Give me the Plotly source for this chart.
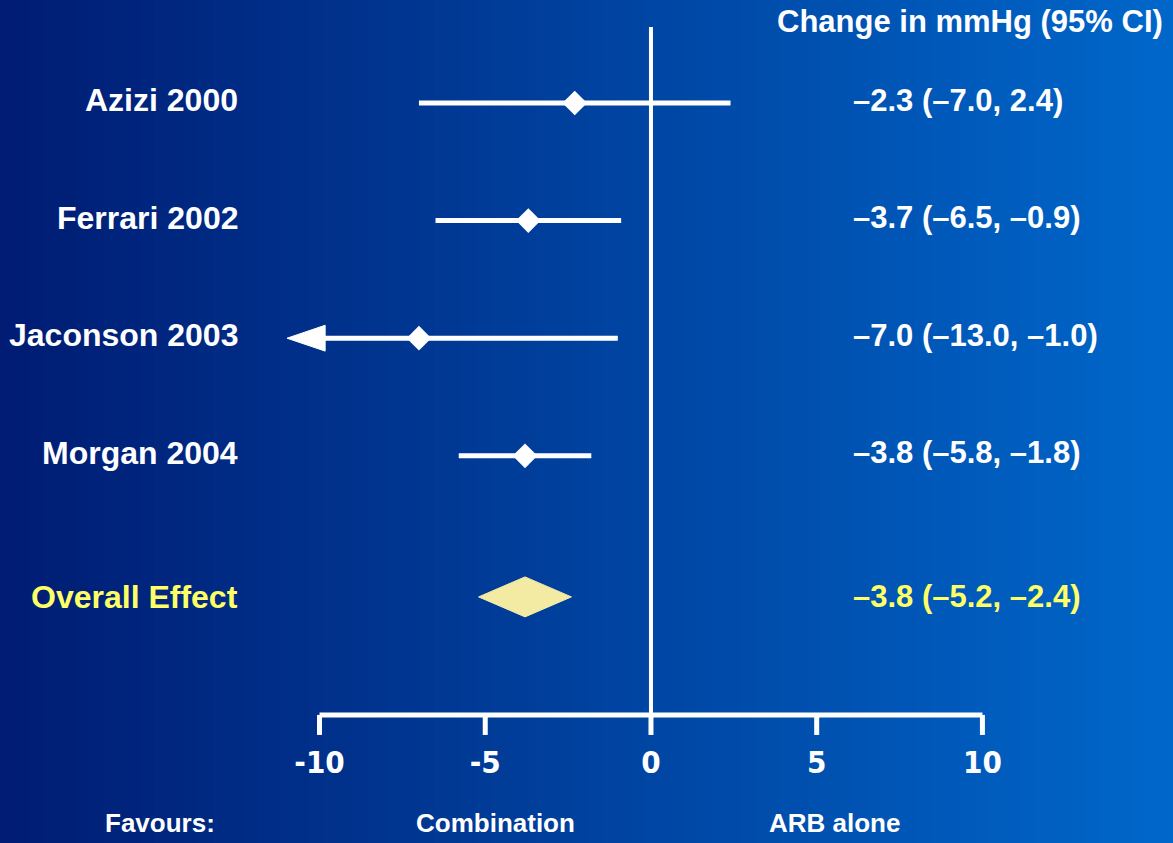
import plotly.graph_objects as go

# Study-level results: change in mmHg with 95% confidence interval
studies = ["Azizi 2000", "Ferrari 2002", "Jaconson 2003", "Morgan 2004"]
estimates = [-2.3, -3.7, -7.0, -3.8]
ci_low = [-7.0, -6.5, -13.0, -5.8]
ci_high = [2.4, -0.9, -1.0, -1.8]

# Pooled result
overall_label = "Overall Effect"
overall_est = -3.8
overall_low = -5.2
overall_high = -2.4

# Axis ticks and captions
tick_values = [-10, -5, 0, 5, 10]
tick_labels = ["-10", "-5", "0", "5", "10"]
header_text = "Change in mmHg (95% CI)"
favours_texts = ["Favours:", "Combination", "ARB alone"]

# ---- layout constants ----
W, H = 1173, 843
X_MIN, X_MAX = -10, 10
x_range = [-19.64, 15.75]
y_range = [6.293, -0.876]
row_y = [0, 1, 2, 3]
overall_y = 4.2
axis_y = 5.204
tick_len = 0.17
tick_label_y = 5.63
zero_top = -0.646
WHITE = "#ffffff"
YELLOW = "#ffff66"
DIAMOND_FILL = "#f3eba3"
FONT = "Liberation Sans, Arial, sans-serif"
NARROW = "DejaVu Sans Condensed, Liberation Sans Narrow, Arial Narrow, sans-serif"


def fmt(v):
    s = f"{abs(v):.1f}"
    return ("\u2013" + s) if v < 0 else s


fig = go.Figure()

# horizontal blue gradient background
n_strips = 160
c0 = (0, 28, 115)
c1 = (0, 103, 202)
shapes = []
for i in range(n_strips):
    t = i / (n_strips - 1)
    col = "rgb({},{},{})".format(*[round(a + (b - a) * t) for a, b in zip(c0, c1)])
    shapes.append(dict(type="rect", xref="paper", yref="paper",
                       x0=i / n_strips, x1=(i + 1.6) / n_strips, y0=0, y1=1,
                       fillcolor=col, line=dict(width=0), layer="below"))

# zero reference line
fig.add_trace(go.Scatter(x=[0, 0], y=[zero_top, axis_y], mode="lines",
                         line=dict(color=WHITE, width=4), hoverinfo="skip"))

# bracket-style x axis with downward ticks
bx, by = [X_MIN, X_MAX], [axis_y, axis_y]
for tv in tick_values:
    bx += [None, tv, tv]
    by += [None, axis_y, axis_y + tick_len]
fig.add_trace(go.Scatter(x=bx, y=by, mode="lines",
                         line=dict(color=WHITE, width=5), hoverinfo="skip"))
fig.add_trace(go.Scatter(x=tick_values, y=[tick_label_y] * len(tick_values),
                         mode="text", text=tick_labels,
                         textfont=dict(family=NARROW, size=31, color=WHITE, weight="bold"),
                         hoverinfo="skip"))

# confidence interval lines (truncated at the axis limit)
lx, ly = [], []
for y, lo, hi in zip(row_y, ci_low, ci_high):
    lx += [max(lo, X_MIN), min(hi, X_MAX), None]
    ly += [y, y, None]
fig.add_trace(go.Scatter(x=lx, y=ly, mode="lines",
                         line=dict(color=WHITE, width=5), hoverinfo="skip"))

# arrowheads for intervals running off the axis
for y, lo in zip(row_y, ci_low):
    if lo < X_MIN:
        fig.add_trace(go.Scatter(
            x=[X_MIN - 0.98, X_MIN + 0.17, X_MIN + 0.17, X_MIN - 0.98],
            y=[y, y - 0.11, y + 0.11, y], mode="lines", fill="toself",
            fillcolor=WHITE, line=dict(color=WHITE, width=1), hoverinfo="skip"))

# point estimates
fig.add_trace(go.Scatter(x=estimates, y=row_y, mode="markers",
                         marker=dict(symbol="diamond", size=19, color=WHITE,
                                     line=dict(width=0)),
                         hoverinfo="skip"))

# pooled estimate diamond
dh = 0.17
fig.add_trace(go.Scatter(
    x=[overall_low, overall_est, overall_high, overall_est, overall_low],
    y=[overall_y, overall_y - dh, overall_y, overall_y + dh, overall_y],
    mode="lines", fill="toself", fillcolor=DIAMOND_FILL,
    line=dict(color=DIAMOND_FILL, width=1), hoverinfo="skip"))

annotations = []
name_x = -12.40
value_x = 6.02
for y, name, e, lo, hi in zip(row_y, studies, estimates, ci_low, ci_high):
    annotations.append(dict(x=name_x, y=y - 0.025, text=name, xanchor="right",
                            yanchor="middle", showarrow=False,
                            font=dict(family=FONT, size=32, color=WHITE, weight="bold")))
    annotations.append(dict(x=value_x, y=y - 0.025, text=f"{fmt(e)} ({fmt(lo)}, {fmt(hi)})",
                            xanchor="left", yanchor="middle", showarrow=False,
                            font=dict(family=FONT, size=31, color=WHITE, weight="bold")))
annotations.append(dict(x=name_x, y=overall_y, text=overall_label, xanchor="right",
                        yanchor="middle", showarrow=False,
                        font=dict(family=FONT, size=32, color=YELLOW, weight="bold")))
annotations.append(dict(x=value_x, y=overall_y,
                        text=f"{fmt(overall_est)} ({fmt(overall_low)}, {fmt(overall_high)})",
                        xanchor="left", yanchor="middle", showarrow=False,
                        font=dict(family=FONT, size=31, color=YELLOW, weight="bold")))
annotations.append(dict(x=9.62, y=-0.69, text=header_text, xanchor="center",
                        yanchor="middle", showarrow=False,
                        font=dict(family=FONT, size=31, color=WHITE, weight="bold")))
for fx, ft in zip([-14.81, -4.68, 5.55], favours_texts):
    annotations.append(dict(x=fx, y=6.12, text=ft, xanchor="center", yanchor="middle",
                            showarrow=False,
                            font=dict(family=FONT, size=26, color=WHITE, weight="bold")))

fig.update_layout(
    width=W, height=H,
    margin=dict(l=0, r=0, t=0, b=0),
    paper_bgcolor="#001c73", plot_bgcolor="rgba(0,0,0,0)",
    showlegend=False,
    shapes=shapes,
    annotations=annotations,
    xaxis=dict(range=x_range, visible=False, fixedrange=True),
    yaxis=dict(range=y_range, visible=False, fixedrange=True),
)

fig.write_html("out.html", config={"displayModeBar": False})
